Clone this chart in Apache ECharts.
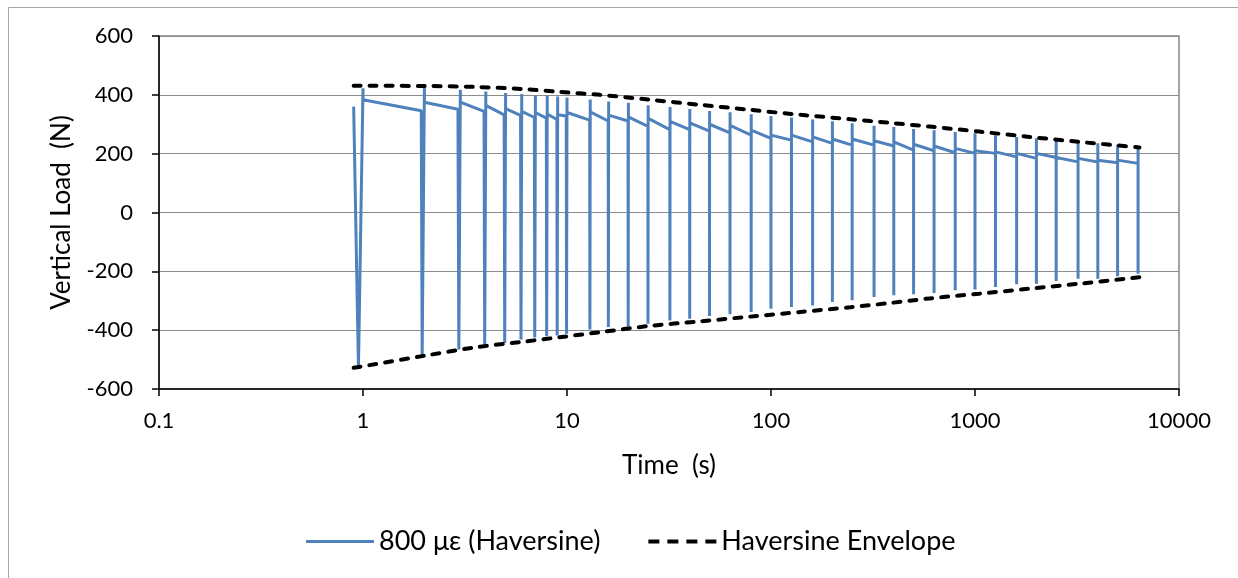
<!DOCTYPE html>
<html>
<head>
<meta charset="utf-8">
<script src="https://cdn.jsdelivr.net/npm/echarts@6/dist/echarts.min.js"></script>
<style>
html,body{margin:0;padding:0;background:#fff;}
#chart{width:1238px;height:578px;}
</style>
</head>
<body>
<div id="chart"></div>
<script>
// Tick labels
const xTickLabels = ['0.1', '1', '10', '100', '1000', '10000'];

// Haversine cycles (time in s, load in N)
const peakTime = [1,2,3,4,5,6,7,8,9,10,13,16,20,25,32,40,50,63,80,100,126,160,200,250,320,400,500,630,800,1000,1260,1600,2000,2500,3200,4000,5000,6300];
const troughTime = [0.95,1.95,2.95,3.95,4.95,5.95,6.95,7.95,8.95,9.95,12.95,15.95,19.95,24.95,31.95,39.95,49.95,62.95,79.95,99.95,125.95,159.95,199.95,249.95,319.95,399.95,499.95,629.95,799.95,999.95,1259.95,1599.95,1999.95,2499.95,3199.95,3999.95,4999.95,6299.95];
const preTime = [0.9,1.93,2.92,3.92,4.92,5.92,6.92,7.92,8.92,9.92,12.92,15.92,19.92,24.92,31.92,39.92,49.92,62.92,79.92,99.92,125.92,159.92,199.92,249.92,319.92,399.92,499.92,629.92,799.92,999.92,1259.92,1599.92,1999.92,2499.92,3199.92,3999.92,4999.92,6299.92];
const peakVal = [422,428,417,411,406,403,398,397,394,391,384,377,373,365,359,352,345,341,334,328,323,316,310,303,295,291,284,280,274,269,263,257,252,246,240,235,230,219];
const troughVal = [-525,-486,-466,-452,-444,-432,-425,-421,-418,-412,-398,-389,-387,-378,-367,-361,-352,-346,-338,-327,-321,-316,-304,-298,-287,-281,-278,-274,-264,-262,-253,-244,-242,-233,-225,-225,-217,-208];
const preVal = [360,346,351,344,332,330,323,321,316,328,314,311,311,293,282,282,277,271,263,252,246,240,235,229,229,226,212,210,203,201,201,189,184,187,172,172,169,167];
const postVal = [383,375,375,364,353,344,340,335,332,340,342,331,325,320,310,305,300,296,280,263,263,257,250,250,244,240,232,226,218,210,206,201,201,187,184,178,178];

// Envelope
const envTime = [0.9,2,3.5,6,9.2,14.5,25,45,79,140,245,380,600,1050,1850,3250,6400];
const envUpper = [431,430,427,420,410,400,384,366,349,332,317,305,292,275,257,240,221];
const envLower = [-528,-487,-459,-440,-424,-407,-386,-370,-354,-338,-322,-308,-292,-276,-259,-242,-220];

const waveData = [];
for (let i = 0; i < peakTime.length; i++) {
  waveData.push([preTime[i], preVal[i]]);
  waveData.push([troughTime[i], troughVal[i]]);
  waveData.push([peakTime[i], peakVal[i]]);
  if (i < postVal.length) waveData.push([peakTime[i], postVal[i]]);
}
const upperData = envTime.map((t, i) => [t, envUpper[i]]);
const lowerData = envTime.map((t, i) => [t, envLower[i]]);

const FONT = 'Lato';
const solidIcon = 'path://M0,0L68,0L68,0.02Z M0,0.5h68v3h-68z M0,4L68,4L68,3.98Z';
const dashIcon = 'path://M0,0h11v4h-11z M19,0h11v4h-11z M38,0h11v4h-11z M57,0h11v4h-11z';
const chart = echarts.init(document.getElementById('chart'), null, {renderer: 'canvas'});
const envStyle = {color: '#000', width: 4, type: [7, 9], cap: 'round'};
chart.setOption({
  animation: false,
  backgroundColor: '#fff',
  textStyle: {fontFamily: FONT, color: '#000'},
  graphic: [{
    type: 'rect', z: -10,
    shape: {x: 8.5, y: 7.5, width: 1260, height: 620},
    style: {fill: 'none', stroke: '#a6a6a6', lineWidth: 1}
  }],
  grid: {left: 159, right: 59, top: 36, bottom: 189, show: true, borderColor: '#868686', borderWidth: 1.5, containLabel: false},
  legend: {
    left: 301, top: 523,
    itemWidth: 68, itemHeight: 4, itemGap: 48,
    textStyle: {fontFamily: FONT, fontSize: 27, color: '#000'},
    data: [
      {name: '800 με (Haversine)', icon: solidIcon},
      {name: 'Haversine Envelope', icon: dashIcon}
    ]
  },
  xAxis: {
    type: 'log', logBase: 10, min: 0.1, max: 10000,
    name: 'Time  (s)', nameLocation: 'middle', nameGap: 64,
    nameTextStyle: {fontFamily: FONT, fontSize: 26, color: '#000'},
    axisLine: {show: true, onZero: false, lineStyle: {color: '#000', width: 1.5}},
    axisTick: {show: true, length: 7, lineStyle: {color: '#000', width: 1.5}},
    minorTick: {show: false},
    splitLine: {show: false},
    axisLabel: {margin: 21, fontFamily: FONT, fontSize: 22, color: '#000',
      formatter: v => xTickLabels[Math.round(Math.log10(v)) + 1]}
  },
  yAxis: {
    type: 'value', min: -600, max: 600, interval: 200,
    name: 'Vertical Load  (N)', nameLocation: 'middle', nameGap: 84, nameRotate: 90,
    nameTextStyle: {fontFamily: FONT, fontSize: 26, color: '#000'},
    axisLine: {show: true, lineStyle: {color: '#000', width: 1.5}},
    axisTick: {show: true, length: 7, lineStyle: {color: '#000', width: 1.5}},
    splitLine: {show: true, lineStyle: {color: '#8c8c8c', width: 1.2}},
    axisLabel: {margin: 26, fontFamily: FONT, fontSize: 22, color: '#000'}
  },
  series: [
    {name: '800 με (Haversine)', type: 'line', data: waveData, symbol: 'none', z: 2,
     lineStyle: {color: '#4F81BD', width: 3}, itemStyle: {color: '#4F81BD'}},
    {name: 'Haversine Envelope', type: 'line', data: upperData, symbol: 'none', smooth: 0.3, z: 3,
     lineStyle: envStyle, itemStyle: {color: '#000'}},
    {name: 'Haversine Envelope', type: 'line', data: lowerData, symbol: 'none', smooth: 0.3, z: 3,
     lineStyle: envStyle, itemStyle: {color: '#000'}}
  ]
});
</script>
</body>
</html>
